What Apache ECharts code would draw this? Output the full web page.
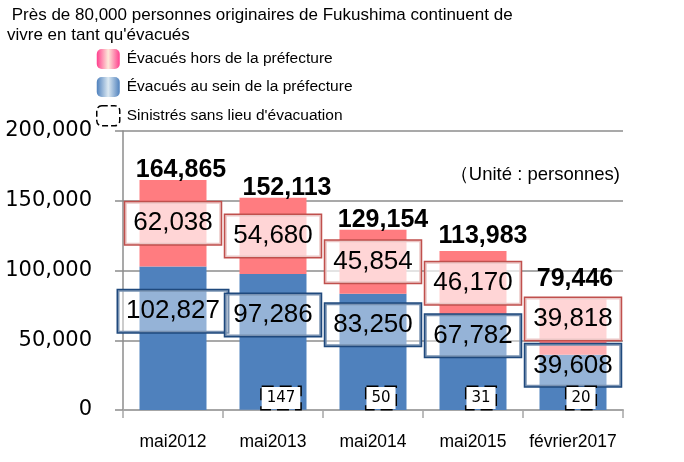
<!DOCTYPE html>
<html>
<head>
<meta charset="utf-8">
<script src="https://cdn.jsdelivr.net/npm/echarts@6/dist/echarts.min.js"></script>
<style>
  html, body { margin: 0; padding: 0; background: #fff; }
  #chart { width: 684px; height: 462px; }
</style>
</head>
<body>
<div id="chart"></div>
<script>
// données (personnes)
const categories = ['mai2012', 'mai2013', 'mai2014', 'mai2015', 'février2017'];
const insidePref = [102827, 97286, 83250, 67782, 39608];
const outsidePref = [62038, 54680, 45854, 46170, 39818];
const noShelter = [null, 147, 50, 31, 20];
const totals = [164865, 152113, 129154, 113983, 79446];

const SANS = '"Liberation Sans", Arial, sans-serif';
const fmt = v => Number(v).toLocaleString('en-US');

const chart = echarts.init(document.getElementById('chart'));

function grad(edge, mid) {
  return new echarts.graphic.LinearGradient(0, 0, 1, 0, [
    { offset: 0, color: edge },
    { offset: 0.5, color: mid },
    { offset: 1, color: edge }
  ]);
}

// étiquettes encadrées
function boxLabel(border, bg, offset) {
  return {
    show: true,
    position: 'inside',
    offset: offset,
    formatter: p => fmt(p.value),
    fontFamily: SANS,
    fontSize: 26,
    lineHeight: 30,
    color: '#000',
    backgroundColor: bg,
    borderColor: border,
    borderWidth: 1.5,
    padding: [6, 8]
  };
}

const blueData = insidePref.map((v, i) => ({
  value: v,
  label: boxLabel('#1F497D', 'rgba(255,255,255,0.4)', i === 4 ? [0, -17] : [0, -27])
}));
const pinkData = outsidePref.map((v, i) => ({
  value: v,
  label: boxLabel('#C0504D', 'rgba(255,255,255,0.68)', i === 4 ? [0, -8] : [0, 0])
}));
// totaux : petit décalage comme sur l'original
const totalNudge = [[8, 0], [14, 0], [10, 0], [10, -5], [2, -11]];
const totalData = totals.map((v, i) => ({ value: v, label: { offset: totalNudge[i] } }));

const option = {
  animation: false,
  title: {
    text: ' Près de 80,000 personnes originaires de Fukushima continuent de\nvivre en tant qu\'évacués',
    left: 7,
    top: 5,
    padding: 0,
    textStyle: { fontFamily: SANS, fontSize: 17, fontWeight: 'normal', color: '#000', lineHeight: 20 }
  },
  legend: {
    orient: 'vertical',
    left: 96,
    top: 49,
    padding: 0,
    itemWidth: 23,
    itemHeight: 20,
    itemGap: 8,
    selectedMode: false,
    textStyle: { fontFamily: SANS, fontSize: 15.5, color: '#000', padding: [0, 0, 0, 2] },
    data: [
      { name: 'Évacués hors de la préfecture', itemStyle: { color: grad('#FF3F8E', '#FDEADA') } },
      { name: 'Évacués au sein de la préfecture', itemStyle: { color: grad('#4F81BD', '#DCE9F2') } },
      {
        name: 'Sinistrés sans lieu d\'évacuation',
        itemStyle: { color: 'rgba(255,255,255,0)', borderColor: '#000', borderWidth: 1.5, borderType: 'dashed' }
      }
    ]
  },
  graphic: [{
    type: 'text',
    right: 64,
    top: 165,
    style: { text: '（Unité : personnes)', font: '18.5px "Liberation Sans", sans-serif', fill: '#000' }
  }],
  grid: { left: 123, right: 61, top: 131, bottom: 52 },
  xAxis: {
    type: 'category',
    data: categories,
    axisLine: { lineStyle: { color: '#A6A6A6', width: 2 } },
    axisTick: { show: true, length: 8, lineStyle: { color: '#A6A6A6', width: 1.5 } },
    axisLabel: { interval: 0, margin: 23, fontFamily: SANS, fontSize: 17.5, color: '#000' }
  },
  yAxis: {
    type: 'value',
    min: 0,
    max: 200000,
    interval: 50000,
    axisLine: { show: true, lineStyle: { color: '#8C8C8C', width: 1.5 } },
    axisTick: { show: true, length: 8, lineStyle: { color: '#8C8C8C', width: 1.5 } },
    splitLine: { lineStyle: { color: '#8C8C8C', width: 1.5 } },
    axisLabel: { margin: 31, fontFamily: '"DejaVu Sans", sans-serif', fontSize: 21, color: '#000', formatter: fmt }
  },
  series: [
    {
      name: 'Sinistrés sans lieu d\'évacuation',
      type: 'bar',
      stack: 'total',
      barWidth: 67,
      data: noShelter,
      itemStyle: { color: 'rgba(0,0,0,0)' },
      z: 5,
      label: {
        show: true,
        position: 'insideBottom',
        distance: 1,
        offset: [8, 0],
        formatter: p => fmt(p.value),
        fontFamily: '"DejaVu Sans", sans-serif',
        fontSize: 15,
        lineHeight: 18,
        color: '#000',
        backgroundColor: '#fff',
        borderColor: '#000',
        borderWidth: 1.5,
        borderType: 'dashed',
        padding: [2, 5]
      }
    },
    {
      name: 'Évacués au sein de la préfecture',
      type: 'bar',
      stack: 'total',
      barWidth: 67,
      data: blueData,
      itemStyle: { color: '#4F81BD' }
    },
    {
      name: 'Évacués hors de la préfecture',
      type: 'bar',
      stack: 'total',
      barWidth: 67,
      data: pinkData,
      itemStyle: { color: '#FF7C80' }
    },
    {
      name: 'total',
      type: 'scatter',
      data: totalData,
      symbolSize: 0,
      z: 10,
      itemStyle: { opacity: 1 },
      label: {
        show: true,
        position: 'top',
        distance: -3,
        formatter: p => fmt(p.value),
        fontFamily: SANS,
        fontWeight: 'bold',
        fontSize: 25,
        color: '#000',
        textBorderWidth: 0
      }
    }
  ]
};

chart.setOption(option);
</script>
</body>
</html>
